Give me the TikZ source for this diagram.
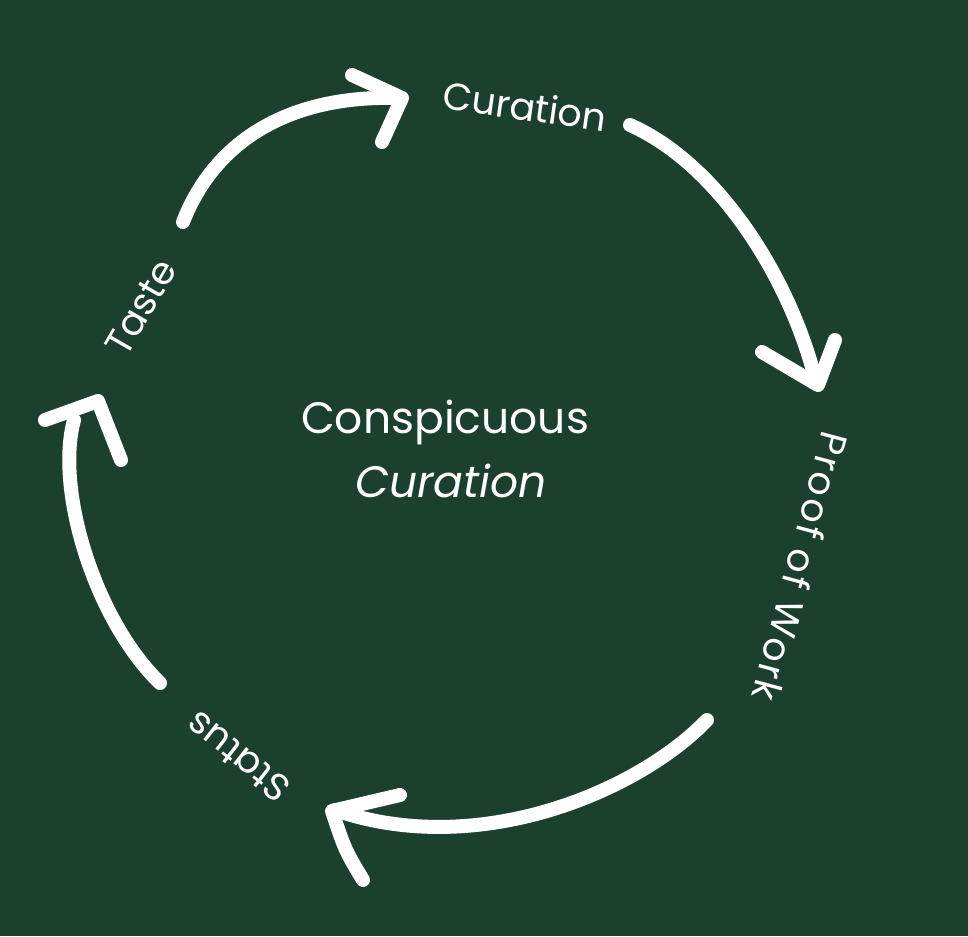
\documentclass[tikz,border=0pt]{standalone}
\usepackage{fontspec}
\setmainfont{Poppins}
\definecolor{bg}{RGB}{28,64,46}
\begin{document}
\begin{tikzpicture}[x=1pt,y=-1pt,
  stroke/.style={draw=white, line width=14pt, line cap=round, line join=round},
  lbl/.style={text=white, inner sep=0pt, font=\fontsize{38}{44}\selectfont},
  ctr/.style={text=white, inner sep=0pt, font=\fontsize{44}{50}\selectfont}]
\fill[bg] (0,0) rectangle (968,936);
\useasboundingbox (0,0) rectangle (968,936);

% labels
\node[lbl, rotate=-8] (curation) at (525,106) {Curation};
\node[lbl, rotate=-105] (proof) at (801,567) {\addfontfeature{LetterSpace=7}Proof of Work};
\node[lbl, rotate=142] (status) at (238,757) {Status};
\node[lbl, rotate=60] (taste) at (141,307) {Taste};
\node[ctr] (c1) at (445,422) {Conspicuous};
\node[ctr, font=\fontsize{44}{50}\selectfont\itshape] (c2) at (451,481) {Curation};

% arrow coordinates
\coordinate (a1s) at (183,222); \coordinate (a1e) at (398,98);
\coordinate (a1b) at (352,75); \coordinate (a1t) at (402,98); \coordinate (a1c) at (382,142);
\coordinate (a2s) at (630,125); \coordinate (a2e) at (815,378);
\coordinate (a2b) at (762,352); \coordinate (a2t) at (818,385); \coordinate (a2c) at (835,340);
\coordinate (a3s) at (707,720); \coordinate (a3e) at (335,810);
\coordinate (a3b) at (400,795); \coordinate (a3t) at (332,811); \coordinate (a3c) at (363,880);
\coordinate (a4s) at (160,683); \coordinate (a4e) at (74,420);
\coordinate (a4b) at (45,420); \coordinate (a4t) at (98,401); \coordinate (a4c) at (121,460);

\draw[stroke] (a1s) .. controls (215,140) and (290,95) .. (a1e);
\draw[stroke] (a1b) -- (a1t) -- (a1c);
\draw[stroke] (a2s) .. controls (720,165) and (790,280) .. (a2e);
\draw[stroke] (a2b) -- (a2t) -- (a2c);
\draw[stroke] (a3s) .. controls (640,790) and (480,860) .. (a3e);
\draw[stroke] (a3b) -- (a3t) .. controls (345,850) .. (a3c);
\draw[stroke] (a4s) .. controls (95,620) and (55,490) .. (a4e);
\draw[stroke] (a4b) -- (a4t) -- (a4c);
\end{tikzpicture}
\end{document}
